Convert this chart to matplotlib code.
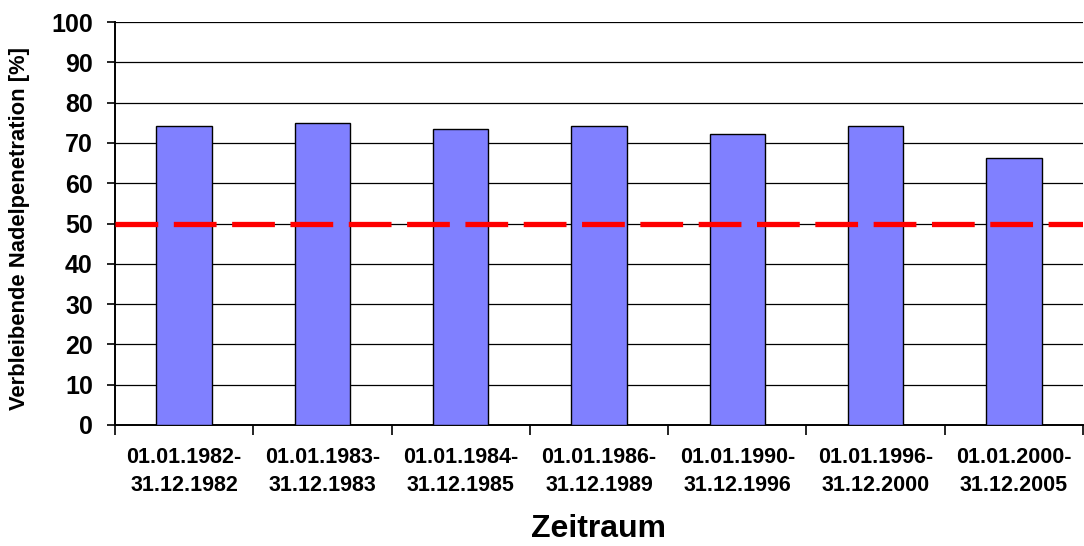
import matplotlib
matplotlib.use('Agg')
import matplotlib.pyplot as plt
import numpy as np

# Remaining needle penetration per period
periods = ['01.01.1982-\n31.12.1982', '01.01.1983-\n31.12.1983', '01.01.1984-\n31.12.1985',
           '01.01.1986-\n31.12.1989', '01.01.1990-\n31.12.1996', '01.01.1996-\n31.12.2000',
           '01.01.2000-\n31.12.2005']
penetration = [74.2, 75.0, 73.4, 74.2, 72.1, 74.2, 66.3]
threshold = 50
y_ticks = list(range(0, 101, 10))

plt.rcParams['font.family'] = ['Liberation Sans', 'DejaVu Sans']
plt.rcParams['font.weight'] = 'bold'

fig = plt.figure(figsize=(10.84, 5.46), dpi=100)
ax = fig.add_axes([115 / 1084, 1 - 425 / 546, 968 / 1084, 403 / 546])

x = np.arange(len(periods))
ax.bar(x, penetration, width=0.4, color='#8080FF', edgecolor='black',
       linewidth=1.0, zorder=3)

# 50 % reference line
ax.axhline(threshold, color='#FF0000', linewidth=3.8, dashes=(8.1, 2.95),
           dash_capstyle='butt', zorder=4)

ax.set_xlim(-0.5, len(periods) - 0.5)
ax.set_ylim(0, 100)
ax.set_yticks(y_ticks)
ax.set_yticklabels([str(v) for v in y_ticks], fontsize=18, fontweight='bold')
ax.grid(True, axis='y', color='black', linewidth=0.9, zorder=0)
ax.set_axisbelow(True)

ax.set_xticks(x)
ax.set_xticklabels(periods, fontsize=15.5, fontweight='bold', linespacing=1.45)
ax.set_xticks(np.arange(-0.5, len(periods)), minor=True)
ax.tick_params(axis='x', which='major', length=0, pad=16)
ax.tick_params(axis='x', which='minor', length=7, width=1.2, direction='out')
ax.tick_params(axis='y', length=6, width=1.2, pad=10)

for side in ('top', 'right'):
    ax.spines[side].set_visible(False)
for side in ('left', 'bottom'):
    ax.spines[side].set_linewidth(1.4)

fig.text(20 / 1084, 1 - 228 / 546, 'Verbleibende Nadelpenetration [%]',
         rotation=90, ha='center', va='center', fontsize=15.8, fontweight='bold')
fig.text(599 / 1084, 1 - 529 / 546, 'Zeitraum', ha='center', va='center',
         fontsize=23, fontweight='bold')

fig.savefig('out.png', dpi=100)
